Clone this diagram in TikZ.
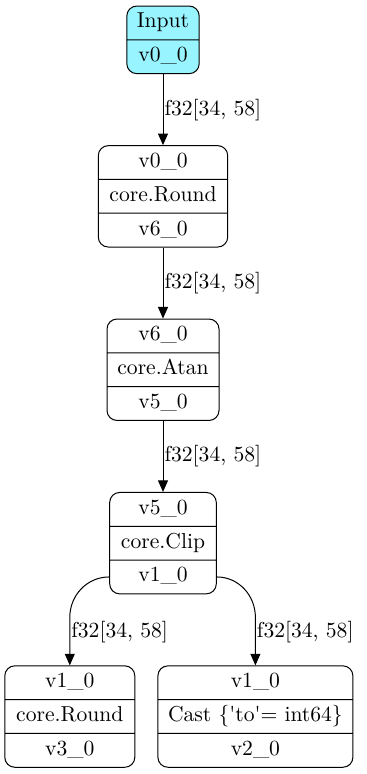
\documentclass[tikz,border=0pt]{standalone}
\usepackage{fontspec}
\usepackage{xcolor}
\usetikzlibrary{arrows.meta,positioning,shapes.multipart,calc}
\definecolor{inputcyan}{HTML}{98F5FF}
\newcommand{\recfont}{\fontsize{10.8}{12.6}\selectfont}
\tikzset{
  recnode/.style={rectangle split, rectangle split parts=#1, draw=black,
                  line width=0.5pt, rounded corners=5pt,
                  inner xsep=1.5pt, inner ysep=1.9pt, font=\recfont},
  arr/.style={-{Triangle[length=5.8pt,width=5pt]}, line width=0.5pt, draw=black},
  elabel/.style={anchor=west, inner sep=0.5pt, font=\recfont},
}

\begin{document}
\begin{tikzpicture}[x=0.5pt, y=0.5pt, node distance=35.5pt]
  \useasboundingbox (0,0) rectangle (366,-774);
  \node[recnode=2, fill=inputcyan, minimum width=36.2pt] (input) at (163,-39.85)
        {Input\strut\nodepart{two}v0\_0\strut};
  \node[recnode=3, minimum width=64.7pt, below=of input] (round1)
        {v0\_0\strut\nodepart{two}core.Round\strut\nodepart{three}v6\_0\strut};
  \node[recnode=3, minimum width=56pt, below=of round1] (atan)
        {v6\_0\strut\nodepart{two}core.Atan\strut\nodepart{three}v5\_0\strut};
  \node[recnode=3, minimum width=53.3pt, below=of atan] (clip)
        {v5\_0\strut\nodepart{two}core.Clip\strut\nodepart{three}v1\_0\strut};
  \node[recnode=3, minimum width=65pt, below=of clip, xshift=-46.6pt] (round2)
        {v1\_0\strut\nodepart{two}core.Round\strut\nodepart{three}v3\_0\strut};
  \node[recnode=3, minimum width=97.5pt, below=of clip, xshift=46.2pt] (cast)
        {v1\_0\strut\nodepart{two}Cast \{\textquotesingle to\textquotesingle= int64\}\strut\nodepart{three}v2\_0\strut};
  \draw[arr] (input)  -- node[elabel] {f32[34, 58]} (round1);
  \draw[arr] (round1) -- node[elabel] {f32[34, 58]} (atan);
  \draw[arr] (atan)   -- node[elabel] {f32[34, 58]} (clip);
  % both outputs leave from the last row of clip
  \draw[arr] (clip.three west) to[out=180,in=90] ($(round2.north)+(0,24pt)$)
             -- node[elabel, pos=0.3] {f32[34, 58]} (round2.north);
  \draw[arr] (clip.three east) to[out=0,in=90] ($(cast.north)+(0,24pt)$)
             -- node[elabel, pos=0.3] {f32[34, 58]} (cast.north);
\end{tikzpicture}
\end{document}
